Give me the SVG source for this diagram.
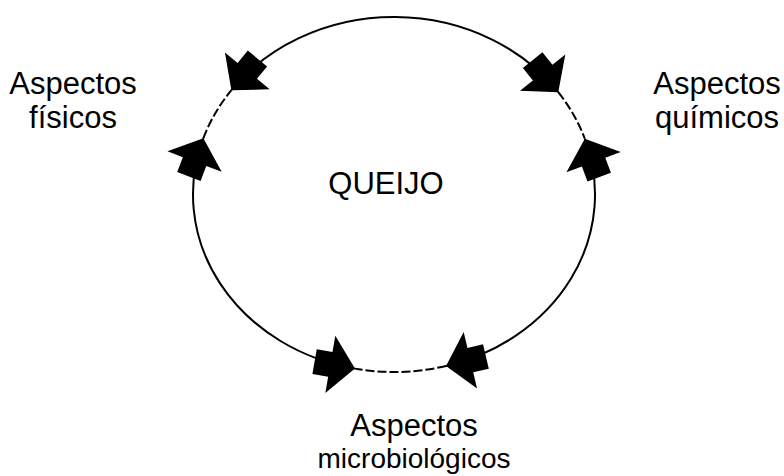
<svg xmlns="http://www.w3.org/2000/svg" xmlns:xlink="http://www.w3.org/1999/xlink" width="784" height="476" viewBox="0 0 784 476">
<style>
.arc{fill:none;stroke:#000;stroke-width:2}
.dash{fill:none;stroke:#000;stroke-width:2;stroke-dasharray:9,3}
.lbl{font-family:"Liberation Sans",Arial,sans-serif;font-size:31px;fill:#000;text-anchor:middle}
.arr{fill:#000;stroke:none}
</style>
<defs>
<path id="arrow" class="arr" d="M0,0 L-25,-29 L-25,-12.5 L-41,-12.5 L-41,12.5 L-25,12.5 L-25,29 Z"/>
</defs>
<rect width="784" height="476" fill="#fff"/>
<g id="connectors">
<path class="arc" d="M231.39,90.17 A201,177.5 0 0 1 558.25,92.18"/>
<path class="arc" d="M584.84,138.77 A201,177.5 0 0 1 446.02,365.95"/>
<path class="arc" d="M354.96,368.62 A201,177.5 0 0 1 203.39,138.18"/>
<path class="dash" d="M203.39,138.18 A201,177.5 0 0 1 231.39,90.17"/>
<path class="dash" d="M558.25,92.18 A201,177.5 0 0 1 584.84,138.77"/>
<path class="dash" d="M446.02,365.95 A201,177.5 0 0 1 354.96,368.62"/>
<use xlink:href="#arrow" transform="translate(231.39,90.17) rotate(129.5)"/>
<use xlink:href="#arrow" transform="translate(203.39,138.18) rotate(-69.3)"/>
<use xlink:href="#arrow" transform="translate(558.25,92.18) rotate(51.4)"/>
<use xlink:href="#arrow" transform="translate(584.84,138.77) rotate(-110.5)"/>
<use xlink:href="#arrow" transform="translate(446.02,365.95) rotate(166.7)"/>
<use xlink:href="#arrow" transform="translate(354.96,368.62) rotate(9.9)"/>
</g>
<g id="queijo"><text class="lbl" x="386" y="194">QUEIJO</text></g>
<g id="fisicos"><text class="lbl" x="73" y="94">Aspectos</text><text class="lbl" x="73" y="128">físicos</text></g>
<g id="quimicos"><text class="lbl" x="717" y="94">Aspectos</text><text class="lbl" x="717" y="128">químicos</text></g>
<g id="microbiologicos"><text class="lbl" x="414" y="436">Aspectos</text><text class="lbl" x="414" y="468" style="font-size:28px">microbiológicos</text></g>
</svg>
